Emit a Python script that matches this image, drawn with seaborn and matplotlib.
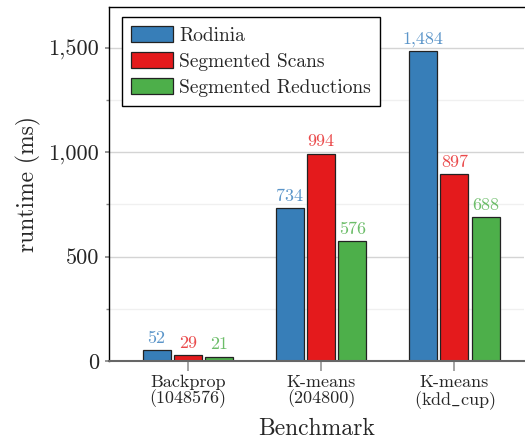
import pandas as pd
import numpy as np
import seaborn as sns
import matplotlib.pyplot as plt
from matplotlib.ticker import FuncFormatter, MultipleLocator

# data
benchmarks = ['Backprop\n(1048576)', 'K-means\n(204800)', 'K-means\n(kdd$\\_$cup)']
methods = ['Rodinia', 'Segmented Scans', 'Segmented Reductions']
rodinia = [52, 734, 1484]
seg_scans = [29, 994, 897]
seg_reductions = [21, 576, 688]

bar_colors = ['#377eb8', '#e41a1c', '#4daf4a']
label_colors = ['#5b95c9', '#ea4a4b', '#6cbd69']

data = pd.DataFrame({
    'Benchmark': benchmarks * 3,
    'Method': [m for m in methods for _ in benchmarks],
    'runtime': rodinia + seg_scans + seg_reductions,
})

sns.set_theme(style='white')
plt.rcParams['font.family'] = 'serif'
plt.rcParams['font.serif'] = ['cmr10', 'DejaVu Serif']
plt.rcParams['mathtext.fontset'] = 'cm'
plt.rcParams['axes.formatter.use_mathtext'] = True

fig = plt.figure(figsize=(5.25, 4.42), dpi=100)
ax = fig.add_axes([0.2076, 0.1833, 0.79, 0.8007])

sns.barplot(data=data, x='Benchmark', y='runtime', hue='Method', order=benchmarks,
            hue_order=methods, palette=bar_colors, width=0.7, gap=0.1,
            edgecolor='#222222', linewidth=0.9, saturation=1, ax=ax)

for cont, col in zip(ax.containers, label_colors):
    ax.bar_label(cont, fmt=lambda v: f'{v:,.0f}', color=col, padding=3, fontsize=13)

ax.set_ylim(0, 1696)
ax.set_xlim(-0.59, 2.52)
ax.yaxis.set_major_locator(MultipleLocator(500))
ax.yaxis.set_minor_locator(MultipleLocator(250))
ax.yaxis.set_major_formatter(FuncFormatter(lambda v, p: f'{v:,.0f}'))
ax.grid(axis='y', which='major', color='#d4d4d4', linewidth=1.0)
ax.grid(axis='y', which='minor', color='#f0f0f0', linewidth=1.0)
ax.set_axisbelow(True)

ax.spines['right'].set_visible(False)
ax.spines['left'].set_color('black')
ax.spines['top'].set_color('black')
ax.spines['bottom'].set_color('#666666')
ax.spines['bottom'].set_linewidth(1.5)
for s in ['left', 'top']:
    ax.spines[s].set_linewidth(1.0)

ax.tick_params(axis='y', which='major', left=True, length=3, color='#888888', labelsize=16, pad=4)
ax.tick_params(axis='y', which='minor', left=True, length=2, color='#888888')
ax.tick_params(axis='x', bottom=True, length=7, color='#999999', labelsize=13, pad=3)
for t in ax.get_xticklabels():
    t.set_linespacing(0.95)

ax.set_xlabel('Benchmark', fontsize=17)
ax.xaxis.set_label_coords(0.5, -0.16)
ax.set_ylabel('runtime (ms)', fontsize=17)
ax.yaxis.set_label_coords(-0.165, 0.5)

ax.legend(loc='upper left', bbox_to_anchor=(0.031, 0.972), frameon=True, fancybox=False,
          edgecolor='black', framealpha=1, fontsize=14, handlelength=2.2, handleheight=0.9,
          handletextpad=0.3, labelspacing=0.38, borderpad=0.45, borderaxespad=0)

fig.savefig('out.png', dpi=100)
